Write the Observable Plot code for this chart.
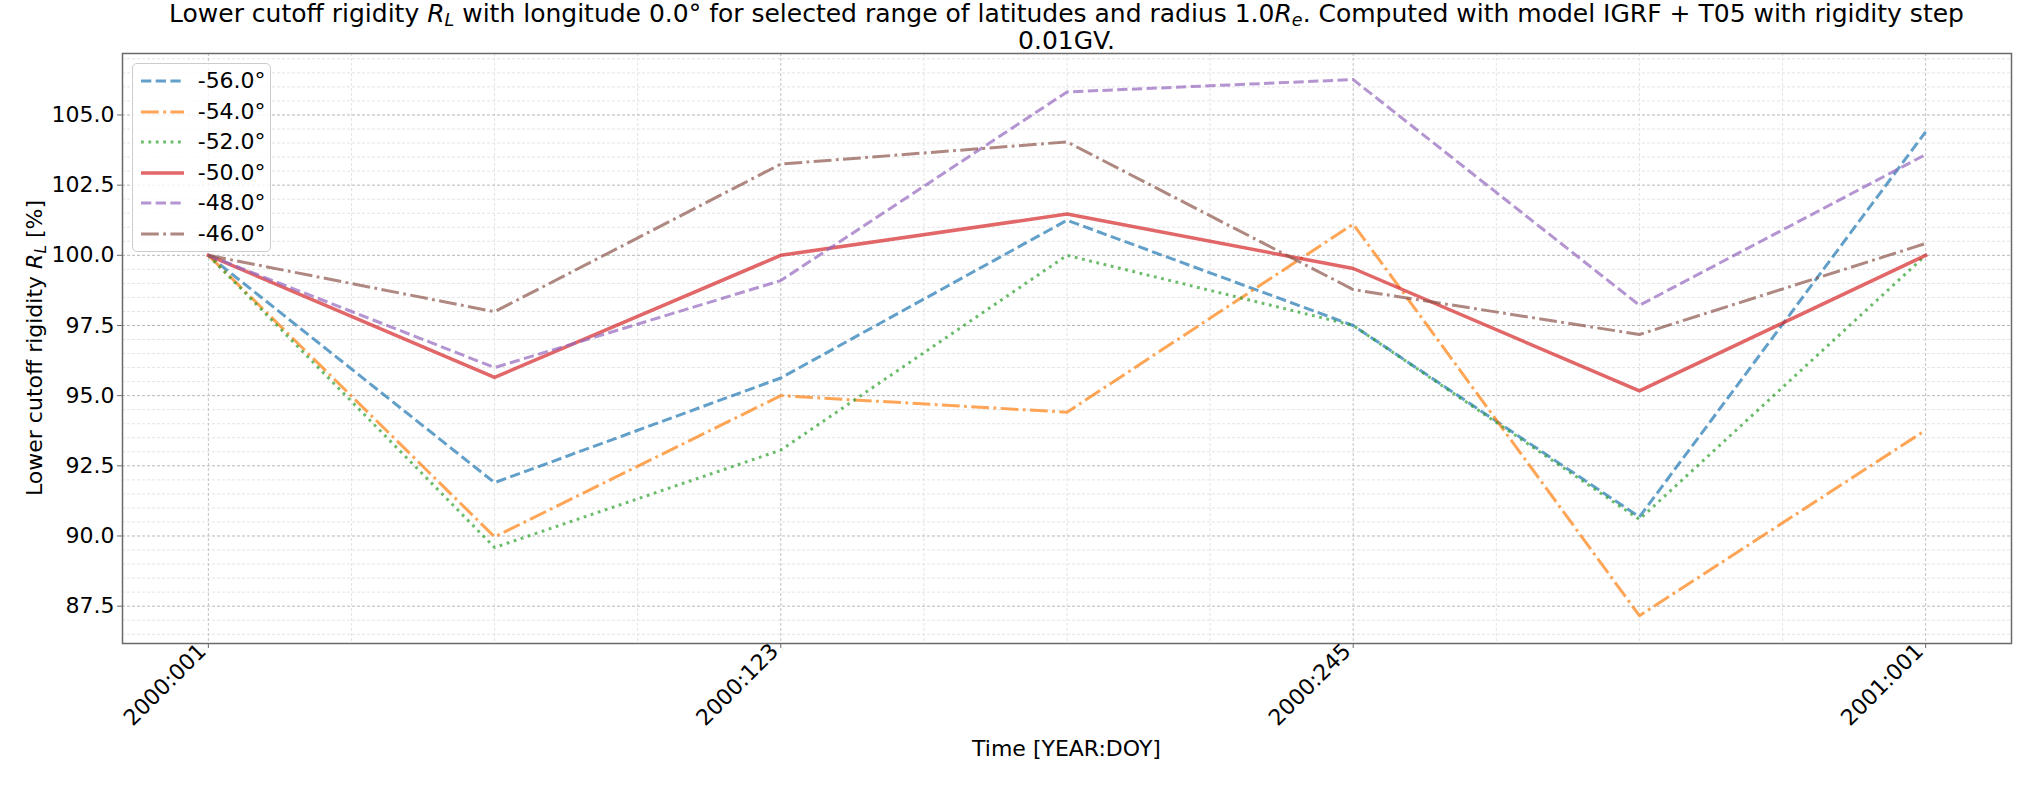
<!DOCTYPE html>
<html><head><meta charset="utf-8">
<script src="https://cdn.jsdelivr.net/npm/d3@7"></script>
<script src="https://cdn.jsdelivr.net/npm/@observablehq/plot@0.6"></script>
<style>
body{margin:0;background:#fff;font-family:"DejaVu Sans",sans-serif;color:#000;}
#wrap{position:relative;width:2035px;height:785px;overflow:hidden;}
.abs{position:absolute;white-space:nowrap;}
#title{left:122px;width:1889px;top:0px;text-align:center;font-size:25px;line-height:27px;}
#ylab{left:35px;top:348px;transform:translate(-50%,-50%) rotate(-90deg);font-size:22px;line-height:25.6px;}
#xlab{left:122px;width:1889px;top:735.6px;text-align:center;font-size:22px;line-height:25.6px;}
.sub{font-size:0.7em;vertical-align:-0.25em;line-height:0;font-style:italic;}
#legend{left:131.7px;top:63.3px;width:137px;height:187px;border:1px solid #cccccc;border-radius:5px;background:rgba(255,255,255,0.8);}
.row{position:absolute;left:0;height:30px;width:137px;}
.row svg{position:absolute;left:6px;top:0;}
.row span{position:absolute;left:65px;top:0;font-size:22px;line-height:30px;}
</style></head><body><div id="wrap"></div>
<script>
// ---- data ----
const days = [1, 62, 123, 184, 245, 306, 367];
const latitudes = ["-56.0°", "-54.0°", "-52.0°", "-50.0°", "-48.0°", "-46.0°"];
const lat56 = [100.0, 91.90, 95.63, 101.25, 97.50, 90.68, 104.40];
const lat54 = [100.0, 89.97, 95.00, 94.41, 101.11, 87.16, 93.77];
const lat52 = [100.0, 89.59, 93.06, 100.00, 97.50, 90.59, 100.00];
const lat50 = [100.0, 95.65, 100.00, 101.47, 99.53, 95.17, 100.00];
const lat48 = [100.0, 96.00, 99.10, 105.82, 106.26, 98.22, 103.59];
const lat46 = [100.0, 97.99, 103.25, 104.04, 98.78, 97.18, 100.42];
const tickDays = [1, 123, 245, 367];
const tickLabels = ["2000:001", "2000:123", "2000:245", "2001:001"];
const yTicks = [87.5, 90.0, 92.5, 95.0, 97.5, 100.0, 102.5, 105.0];
const minorXTicks = [31.5, 62, 92.5, 153.5, 184, 214.5, 275.5, 306, 336.5];
const minorYTicks = d3.range(86.5, 107.01, 0.5).filter(v => Math.abs((v / 2.5) - Math.round(v / 2.5)) > 1e-6);

// ---- styles ----
const seriesValues = [lat56, lat54, lat52, lat50, lat48, lat46];
const colors = ["#1f77b4", "#ff7f0e", "#2ca02c", "#d62728", "#9467bd", "#8c564b"];
const dashes = ["10.3,4.4", "17.8,4.4,2.8,4.4", "2.8,4.6", null, "10.3,4.4", "17.8,4.4,2.8,4.4"];
const widths = [3, 3, 3, 3.5, 3, 3];

const rows = latitudes.map((lat, k) => days.map((d, i) => ({day: d, value: seriesValues[k][i], lat})));

const lineMarks = rows.map((data, k) => Plot.line(data, {
  x: "day", y: "value",
  stroke: colors[k], strokeOpacity: 0.7, strokeWidth: widths[k],
  strokeDasharray: dashes[k] ?? undefined,
  strokeLinejoin: "round", strokeLinecap: dashes[k] ? "butt" : "square"
}));

const chart = Plot.plot({
  width: 2035, height: 785,
  marginLeft: 122, marginRight: 24, marginTop: 53, marginBottom: 142,
  style: {fontFamily: "DejaVu Sans", fontSize: "22px", color: "#000", background: "transparent"},
  x: {type: "linear", domain: [-17.3, 385.3]},
  y: {domain: [86.17, 107.19]},
  marks: [
    Plot.ruleY(minorYTicks, {stroke: "#e4e4e4", strokeDasharray: "3,2", strokeWidth: 1}),
    Plot.ruleX(minorXTicks, {stroke: "#e4e4e4", strokeDasharray: "3,2", strokeWidth: 1}),
    Plot.ruleY(yTicks, {stroke: "#b8b8b8", strokeDasharray: "3,2", strokeWidth: 1}),
    Plot.ruleX(tickDays, {stroke: "#c4c4c4", strokeDasharray: "3,2", strokeWidth: 1}),
    ...lineMarks,
    Plot.frame({stroke: "#6a6a6a", strokeWidth: 1.5}),
    Plot.axisY({ticks: yTicks, tickFormat: d => d.toFixed(1), tickSize: 5, tickPadding: 3, label: null, stroke: "#6a6a6a"}),
    Plot.axisX({ticks: tickDays, tickFormat: () => "", tickSize: 5, label: null, stroke: "#6a6a6a"}),
    Plot.axisX({ticks: tickDays, tickFormat: d => tickLabels[tickDays.indexOf(d)], tickRotate: -45, tickSize: 0, tickPadding: 8, dx: -6, dy: -4, label: null})
  ]
});

const wrap = document.getElementById("wrap");
wrap.appendChild(chart);

const RL = '<i>R</i><span class="sub">L</span>';
const title = document.createElement("div");
title.className = "abs"; title.id = "title";
title.innerHTML = 'Lower cutoff rigidity ' + RL + ' with longitude 0.0° for selected range of latitudes and radius 1.0<i>R</i><span class="sub">e</span>. Computed with model IGRF + T05 with rigidity step<br>0.01GV.';
wrap.appendChild(title);

const ylab = document.createElement("div");
ylab.className = "abs"; ylab.id = "ylab";
ylab.innerHTML = 'Lower cutoff rigidity ' + RL + ' [%]';
wrap.appendChild(ylab);

const xlab = document.createElement("div");
xlab.className = "abs"; xlab.id = "xlab";
xlab.textContent = "Time [YEAR:DOY]";
wrap.appendChild(xlab);

const legend = document.createElement("div");
legend.className = "abs"; legend.id = "legend";
latitudes.forEach((lat, k) => {
  const r = document.createElement("div");
  r.className = "row";
  r.style.top = (1.7 + k * 30.6) + "px";
  const dash = dashes[k] ? `stroke-dasharray="${dashes[k]}"` : "";
  r.innerHTML = `<svg width="48" height="30"><line x1="2" x2="45" y1="15" y2="15" stroke="${colors[k]}" stroke-opacity="0.7" stroke-width="${widths[k]}" ${dash}/></svg><span>${lat}</span>`;
  legend.appendChild(r);
});
wrap.appendChild(legend);
</script></body></html>
